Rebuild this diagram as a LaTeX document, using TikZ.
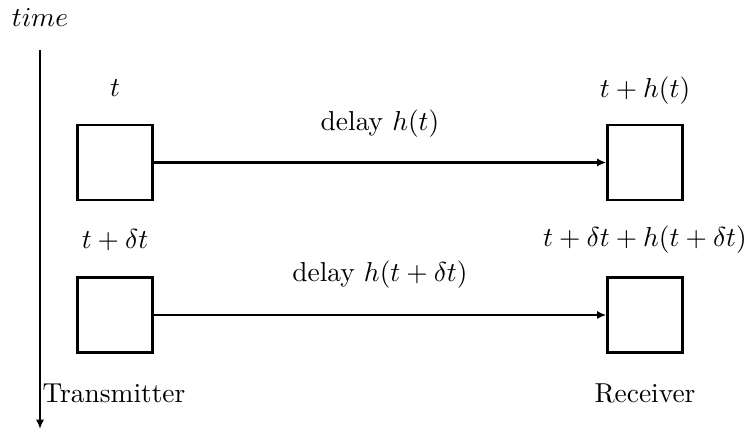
\documentclass[tikz,border=0pt]{standalone}
\usetikzlibrary{arrows.meta}
\begin{document}
\begin{tikzpicture}[x=0.365pt,y=-0.365pt,
  box/.style={draw,line width=0.8pt,minimum width=27.4pt,minimum height=27.4pt,inner sep=0pt},
  link/.style={line width=0.8pt,-{Latex[length=3.4pt,width=3pt]}},
  lbl/.style={inner sep=0pt,anchor=center}]
\useasboundingbox (0,0) rectangle (751,432);
\node[lbl] (time) at (40,17) {$time$};
\coordinate (top) at (40,50);
\coordinate (bot) at (40,429);
\draw[link] (top) -- (bot);
\node[box] (tx1) at (115,162.5) {};
\node[box] (rx1) at (645,162.5) {};
\node[box] (tx2) at (115,315) {};
\node[box] (rx2) at (645,315) {};
\draw[link] (tx1.east) -- (rx1.west);
\draw[link] (tx2.east) -- (rx2.west);
\node[lbl] (l1) at (115,88) {$t$};
\node[lbl] (l2) at (645,91) {$t+h(t)$};
\node[lbl] (d1) at (380,124) {delay $h(t)$};
\node[lbl] (l3) at (115,240) {$t+\delta t$};
\node[lbl] (l4) at (645,240) {$t+\delta t+h(t+\delta t)$};
\node[lbl] (d2) at (380,275) {delay $h(t+\delta t)$};
\node[lbl] (tr) at (114,393) {Transmitter};
\node[lbl] (re) at (645,393) {Receiver};
\end{tikzpicture}
\end{document}
